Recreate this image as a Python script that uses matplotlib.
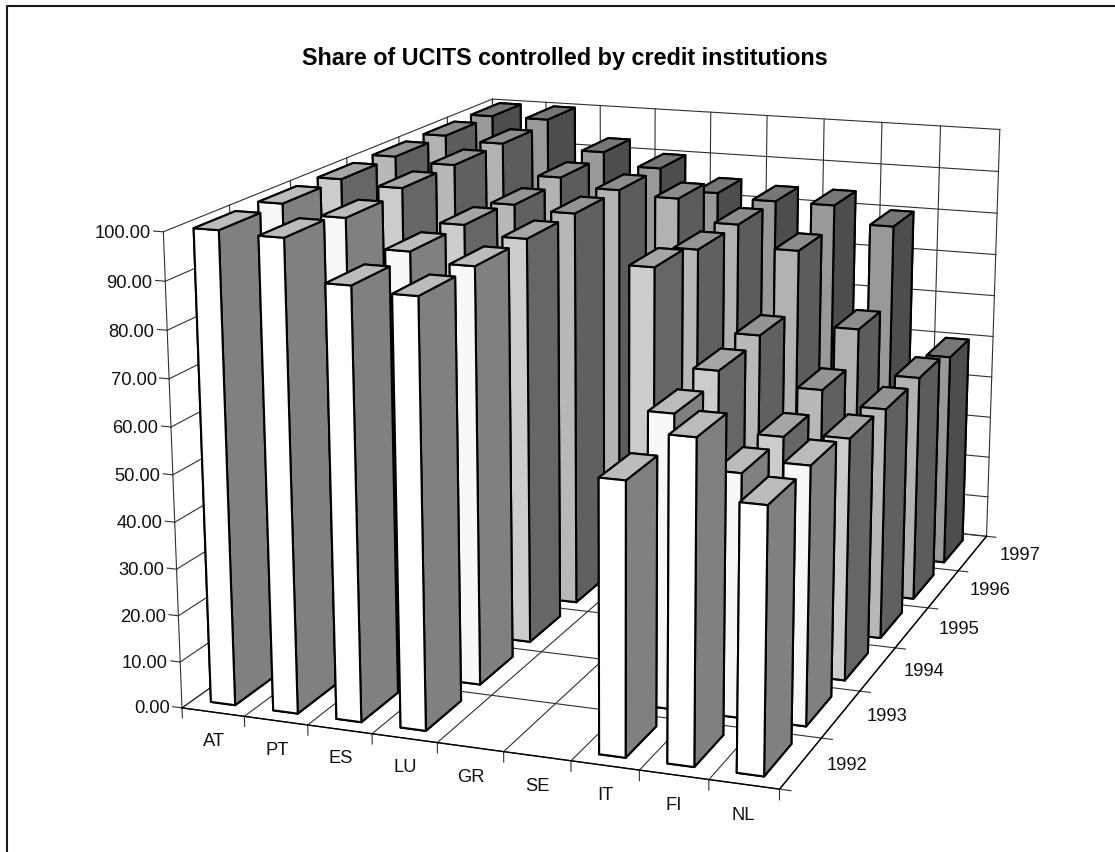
import numpy as np
import matplotlib
matplotlib.use("Agg")
import matplotlib.pyplot as plt
from matplotlib.lines import Line2D
from mpl_toolkits.mplot3d import proj3d

plt.rcParams["font.family"] = ["Liberation Sans", "DejaVu Sans"]

title = "Share of UCITS controlled by credit institutions"
countries = ["AT", "PT", "ES", "LU", "GR", "SE", "IT", "FI", "NL"]
years = [1992, 1993, 1994, 1995, 1996, 1997]
value_ticks = [0, 10, 20, 30, 40, 50, 60, 70, 80, 90, 100]

nan = float("nan")
values_1992 = [100, 99.5, 91, 90, nan, nan, 57, 67, 55]
values_1993 = [100, 98, 92, 90, nan, nan, 63, 52, 55]
values_1994 = [100, 99, 92, 90, nan, 86, 65, 52, 53]
values_1995 = [100, 99, 91, 90, nan, 84, 66, 55, 52]
values_1996 = [100, 99, 92, 90, 89, 84, 79, 62, 52]
values_1997 = [100, 100, 93, 90, 85, 84, 84, 80, 50]
all_values = [values_1992, values_1993, values_1994, values_1995, values_1996, values_1997]

# one (front, side, top) shade per year
front_colors = ["#ffffff", "#f8f8f8", "#cccccc", "#b8b8b8", "#b2b2b2", "#999999"]
side_colors = ["#808080", "#808080", "#666666", "#606060", "#5c5c5c", "#4d4d4d"]
top_colors = ["#bbbbbb", "#bbbbbb", "#a6a6a6", "#949494", "#8c8c8c", "#777777"]

BAR_X0, BAR_DX = 0.28, 0.39
BAR_Y0, BAR_DY = 0.18, 0.64
FONT = 13.2

# camera fitted to the corners of the reference box
ELEV, AZIM, FOCAL = 14.943, -70.031, 0.5411
BOX = (1, 1.3349, 0.7780)
SCALE, CX, CY = 5634.62, 617.57, 399.82
W, H = 1115, 852

fig = plt.figure(figsize=(W / 100, H / 100), dpi=100)
ax = fig.add_subplot(projection="3d", computed_zorder=False)
ax.view_init(ELEV, AZIM)
ax.set_proj_type("persp", focal_length=FOCAL)
ax.set_box_aspect(BOX)
ax.set_axis_off()

# painter's order: far rows first, left to right inside a row
order = 10
for j in range(len(years) - 1, -1, -1):
    for i in range(len(countries)):
        v = all_values[j][i]
        if np.isnan(v):
            continue
        face = [side_colors[j], top_colors[j], front_colors[j], side_colors[j],
                side_colors[j], side_colors[j]]
        ax.bar3d(i + BAR_X0, j + BAR_Y0, 0, BAR_DX, BAR_DY, v, color=face, shade=False,
                 edgecolor="black", linewidth=1.5, zorder=order)
        order += 1

nx, ny = len(countries), len(years)
ax.set_xlim(0, nx)
ax.set_ylim(0, ny)
ax.set_zlim(0, 100)


def label(x, y, z, text, **kw):
    # flat text at the projected spot of a 3D point
    px, py, _ = proj3d.proj_transform(x, y, z, ax.get_proj())
    ax.text2D(px, py, text, transform=ax.transData, color="#111111", **kw)


grid = dict(color="#303030", linewidth=0.8, zorder=1)
for z in value_ticks:
    ax.plot([0, 0, nx], [0, ny, ny], [z, z, z], **grid)
    ax.plot([-0.15, 0], [0, 0], [z, z], **grid)
    label(-0.2, 0, z - 0.6, f"{z:.2f}", ha="right", va="center", fontsize=FONT)
for i in range(nx + 1):
    ax.plot([i, i, i], [0, ny, ny], [0, 0, 100], **grid)
    ax.plot([i, i], [0, 0], [-2.2, 0], **grid)
for j in range(ny + 1):
    ax.plot([0, 0, nx], [j, j, j], [100, 0, 0], **grid)
    ax.plot([nx, nx + 0.16], [j, j], [0, 0], **grid)
ax.plot([0, nx, nx], [0, 0, ny], [0, 0, 0], color="black", linewidth=1.0, zorder=2)

for i, name in enumerate(countries):
    label(i + 0.5, 0, -6.4, name, ha="center", va="center", fontsize=FONT)
for j, year in enumerate(years):
    label(nx + 0.65 + 0.03 * j, j + 0.5, 0.8, str(year), ha="center", va="center", fontsize=FONT)

# place the 2D view so the fitted pixel mapping holds
x0, x1 = ax.viewLim.intervalx
y0, y1 = ax.viewLim.intervaly
left = CX + SCALE * x0
bottom = H - (CY - SCALE * y0)
ax.set_position([left / W, bottom / H, SCALE * (x1 - x0) / W, SCALE * (y1 - y0) / H])

fig.text(565 / W, 1 - 58 / H, title, ha="center", va="center", fontsize=16.8, fontweight="bold")
fig.add_artist(Line2D([6.5 / W, 6.5 / W, 1], [0, 1 - 5.5 / H, 1 - 5.5 / H],
                      transform=fig.transFigure, color="#1a1a1a", linewidth=1.5))

fig.savefig("out.png", dpi=100)
